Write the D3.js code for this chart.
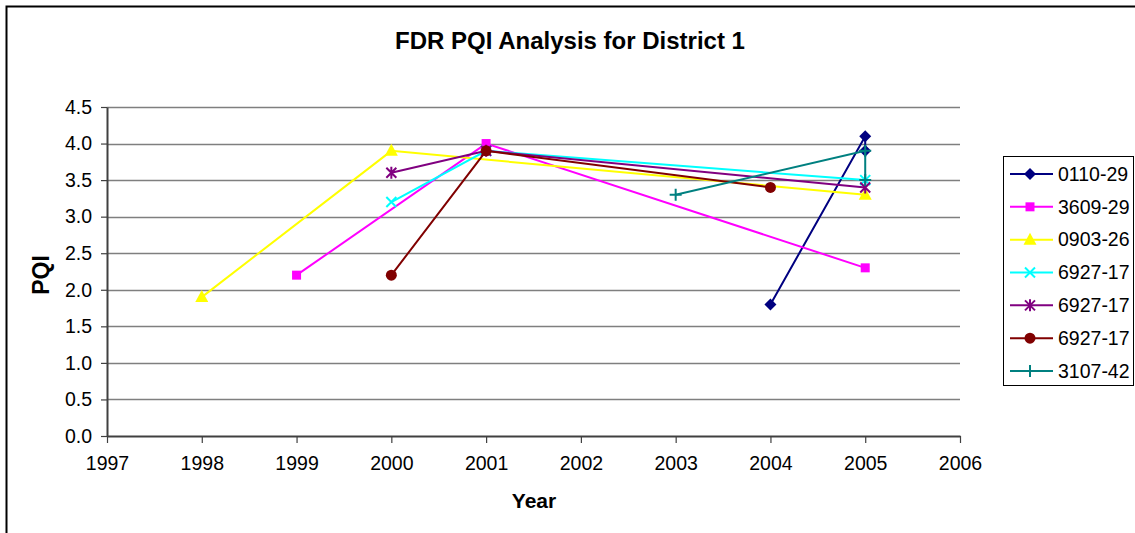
<!DOCTYPE html>
<html>
<head>
<meta charset="utf-8">
<script src="https://cdn.jsdelivr.net/npm/d3@7"></script>
<style>
	body { margin: 0; background: #fff; }
	svg { display: block; font-family: Arial, 'Liberation Sans', sans-serif; }
</style>
</head>
<body>
<svg id="chart"></svg>
<script>
// series data
var seriesNames = ['0110-29', '3609-29', '0903-26', '6927-17', '6927-17', '6927-17', '3107-42'];
var yearsA = [2004, 2005, 2005];
var valsA = [1.8, 4.1, 3.9];
var yearsB = [1999, 2001, 2005];
var valsB = [2.2, 4.0, 2.3];
var yearsC = [1998, 2000, 2005];
var valsC = [1.9, 3.9, 3.3];
var yearsD = [2000, 2001, 2005];
var valsD = [3.2, 3.9, 3.5];
var yearsE = [2000, 2001, 2005];
var valsE = [3.6, 3.9, 3.4];
var yearsF = [2000, 2001, 2004];
var valsF = [2.2, 3.9, 3.4];
var yearsG = [2003, 2005, 2005];
var valsG = [3.3, 3.9, 3.5];
var xTicks = [1997, 1998, 1999, 2000, 2001, 2002, 2003, 2004, 2005, 2006];
var yTicks = [0, 0.5, 1, 1.5, 2, 2.5, 3, 3.5, 4, 4.5];

var colors = ['#000080', '#FF00FF', '#FFFF00', '#00FFFF', '#800080', '#800000', '#008080'];
var markers = ['diamond', 'square', 'triangle', 'x', 'star', 'circle', 'plus'];

var allYears = [yearsA, yearsB, yearsC, yearsD, yearsE, yearsF, yearsG];
var allVals = [valsA, valsB, valsC, valsD, valsE, valsF, valsG];

var series = seriesNames.map(function(name, i) {
	return {
		name: name,
		color: colors[i],
		marker: markers[i],
		points: allYears[i].map(function(y, j) {
			return { year: y, value: allVals[i][j] };
		})
	};
});

var vWidth = 1135;
var vHeight = 533;

var svg = d3.select('#chart').attr('width', vWidth).attr('height', vHeight);

// outer chart border (runs off the bottom/right of the picture)
svg.append('rect')
	.attr('x', 6.5).attr('y', 6.5)
	.attr('width', vWidth + 10).attr('height', vHeight + 10)
	.attr('fill', '#fff').attr('stroke', '#000').attr('stroke-width', 2);

var x = d3.scaleLinear().domain([1997, 2006]).range([107, 960]);
var y = d3.scaleLinear().domain([0, 4.5]).range([436, 107]);

// gridlines
svg.append('g')
	.selectAll('line')
	.data(yTicks.filter(function(d) { return d > 0; }))
	.enter()
	.append('line')
	.attr('x1', x(1997)).attr('x2', x(2006))
	.attr('y1', function(d) { return Math.round(y(d)) + 0.5; })
	.attr('y2', function(d) { return Math.round(y(d)) + 0.5; })
	.attr('stroke', '#7f7f7f').attr('stroke-width', 1.5);

var xAxis = d3.axisBottom(x).tickValues(xTicks).tickFormat(d3.format('d')).tickSize(7).tickSizeOuter(0).tickPadding(13);
var gx = svg.append('g')
	.attr('transform', 'translate(0,' + y(0) + ')')
	.call(xAxis);

var yAxis = d3.axisLeft(y).tickValues(yTicks).tickFormat(d3.format('.1f')).tickSize(6).tickSizeOuter(0).tickPadding(9);
var gy = svg.append('g')
	.attr('transform', 'translate(' + x(1997) + ',0)')
	.call(yAxis);

[gx, gy].forEach(function(g) {
	g.select('.domain').attr('stroke', '#404040').attr('stroke-width', 2);
	g.selectAll('.tick line').attr('stroke', '#404040').attr('stroke-width', 1.2);
	g.selectAll('.tick text')
		.attr('font-family', 'Arial, "Liberation Sans", sans-serif')
		.attr('font-size', 19.5).attr('fill', '#000');
});

function markerPath(type) {
	switch (type) {
		case 'diamond': return 'M0,-6L6,0L0,6L-6,0Z';
		case 'square': return 'M-4.5,-4.5H4.5V4.5H-4.5Z';
		case 'triangle': return 'M0,-7L6.5,5H-6.5Z';
		case 'x': return 'M-5,-5L5,5M5,-5L-5,5';
		case 'star': return 'M-5,-5L5,5M5,-5L-5,5M0,-6V6';
		case 'plus': return 'M-6,0H6M0,-6V6';
	}
	return null;
}

function drawMarker(sel, d) {
	if (d.marker === 'circle') {
		sel.append('circle').attr('r', 5.5).attr('fill', d.color);
	} else if (d.marker === 'x' || d.marker === 'star' || d.marker === 'plus') {
		sel.append('path').attr('d', markerPath(d.marker))
			.attr('fill', 'none').attr('stroke', d.color).attr('stroke-width', 2);
	} else {
		sel.append('path').attr('d', markerPath(d.marker)).attr('fill', d.color);
	}
}

var line = d3.line()
	.x(function(p) { return x(p.year); })
	.y(function(p) { return y(p.value); });

var gSeries = svg.append('g')
	.selectAll('g')
	.data(series)
	.enter()
	.append('g');

gSeries.append('path')
	.attr('d', function(d) { return line(d.points); })
	.attr('fill', 'none')
	.attr('stroke', function(d) { return d.color; })
	.attr('stroke-width', 2);

gSeries.each(function(d) {
	var g = d3.select(this);
	d.points.forEach(function(p) {
		var m = g.append('g').attr('transform', 'translate(' + x(p.year) + ',' + y(p.value) + ')');
		drawMarker(m, d);
	});
});

// title and axis titles
svg.append('text')
	.attr('x', 570).attr('y', 49)
	.attr('text-anchor', 'middle')
	.attr('font-size', 24).attr('font-weight', 'bold')
	.text('FDR PQI Analysis for District 1');

svg.append('text')
	.attr('transform', 'translate(49,275) rotate(-90)')
	.attr('text-anchor', 'middle')
	.attr('font-size', 23).attr('font-weight', 'bold')
	.text('PQI');

svg.append('text')
	.attr('x', 534).attr('y', 508)
	.attr('text-anchor', 'middle')
	.attr('font-size', 21).attr('font-weight', 'bold')
	.text('Year');

// legend
var legend = svg.append('g');
legend.append('rect')
	.attr('x', 1003.5).attr('y', 156.5)
	.attr('width', 130).attr('height', 229)
	.attr('fill', '#fff').attr('stroke', '#000').attr('stroke-width', 1);

var legendY = d3.scalePoint().domain(d3.range(series.length)).range([174, 371]);

var items = legend.selectAll('g.item')
	.data(series)
	.enter()
	.append('g')
	.attr('class', 'item')
	.attr('transform', function(d, i) { return 'translate(0,' + legendY(i) + ')'; });

items.append('line')
	.attr('x1', 1010).attr('x2', 1053)
	.attr('stroke', function(d) { return d.color; })
	.attr('stroke-width', 2);

items.each(function(d) {
	var m = d3.select(this).append('g').attr('transform', 'translate(1030,0)');
	drawMarker(m, d);
});

items.append('text')
	.attr('x', 1058).attr('dy', '0.35em')
	.attr('font-size', 19.5)
	.text(function(d) { return d.name; });
</script>
</body>
</html>
